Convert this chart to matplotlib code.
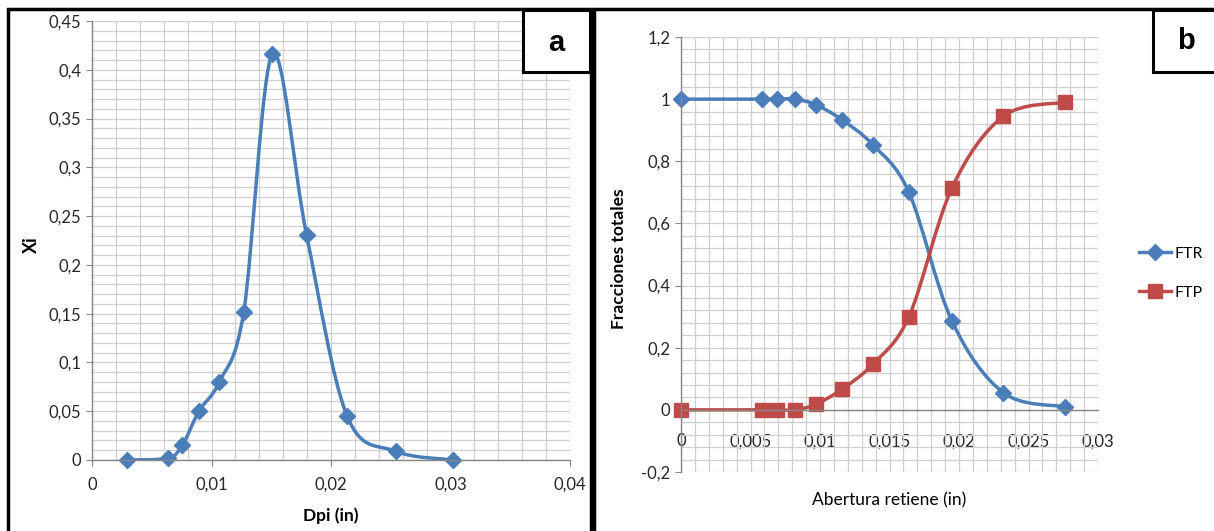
import numpy as np
import matplotlib
matplotlib.use("Agg")
import matplotlib.pyplot as plt
from matplotlib.path import Path
from matplotlib.patches import PathPatch, Rectangle
from matplotlib.lines import Line2D

plt.rcParams['font.family'] = ['Lato', 'DejaVu Sans']

# panel a: particle size distribution
dpi_in = [0.0029, 0.00635, 0.00755, 0.00895, 0.01065, 0.0127, 0.0151, 0.01795, 0.02135, 0.0254, 0.0302]
xi = [0.0, 0.002, 0.015, 0.05, 0.08, 0.152, 0.416, 0.231, 0.045, 0.009, 0.0]

# panel b: cumulative fractions
abertura = [0.0, 0.0058, 0.0069, 0.0082, 0.0097, 0.0116, 0.0138, 0.0164, 0.0195, 0.0232, 0.0276]
ftr = [1.0, 1.0, 1.0, 1.0, 0.982, 0.933, 0.853, 0.70, 0.285, 0.055, 0.01]
ftp = [0.0, 0.0, 0.0, 0.0, 0.018, 0.067, 0.147, 0.30, 0.715, 0.945, 0.99]

BLUE = '#4A7EBB'
RED = '#BE4B48'
GRID = '#CFCFCF'
AXC = '#868686'
LW = 2.5

W, H = 1214, 531


def px_rect(x0, y0, x1, y1):
    # pixel box (top-left origin) -> figure fractions
    return [x0 / W, 1 - y1 / H, (x1 - x0) / W, (y1 - y0) / H]


def smooth_path(x, y):
    # Excel-like smoothed line: Catmull-Rom as cubic Bezier
    p = np.column_stack([x, y])
    pts = np.vstack([p[0], p, p[-1]])
    verts = [p[0]]
    codes = [Path.MOVETO]
    for i in range(1, len(pts) - 2):
        c1 = pts[i] + (pts[i + 1] - pts[i - 1]) / 6
        c2 = pts[i + 1] - (pts[i + 2] - pts[i]) / 6
        verts += [c1, c2, pts[i + 1]]
        codes += [Path.CURVE4] * 3
    return Path(verts, codes)


def fmt(v):
    s = ('%.3f' % v).rstrip('0').rstrip('.')
    if s in ('-0', ''):
        s = '0'
    return s.replace('.', ',')


def style_axes(ax, xmaj, ymaj, xmin, ymin):
    ax.set_xticks(xmaj)
    ax.set_yticks(ymaj)
    ax.set_xticks(xmin, minor=True)
    ax.set_yticks(ymin, minor=True)
    ax.set_xticklabels([fmt(v) for v in xmaj])
    ax.set_yticklabels([fmt(v) for v in ymaj])
    ax.grid(True, which='both', color=GRID, linewidth=0.9)
    ax.set_axisbelow(True)
    for s in ['top', 'right']:
        ax.spines[s].set_visible(False)
    for s in ['left', 'bottom']:
        ax.spines[s].set_color(AXC)
        ax.spines[s].set_linewidth(1.0)
    ax.tick_params(which='major', length=4, color=AXC, labelsize=12)
    ax.tick_params(which='minor', length=0)
    ax.tick_params(axis='both', labelcolor='#262626')


fig = plt.figure(figsize=(W / 100, H / 100), dpi=100)

# ---- panel a ----
ax1 = fig.add_axes(px_rect(92, 21, 570, 460))
ax1.set_xlim(0, 0.04)
ax1.set_ylim(0, 0.45)
style_axes(ax1, np.arange(0, 0.0401, 0.01), np.arange(0, 0.4501, 0.05),
           np.arange(0, 0.0401, 0.002), np.arange(0, 0.4501, 0.01))
ax1.tick_params(axis='x', pad=8)
ax1.add_patch(PathPatch(smooth_path(dpi_in, xi), fill=False, edgecolor=BLUE, lw=LW,
                        capstyle='round', joinstyle='round'))
ax1.plot(dpi_in, xi, linestyle='none', marker='D', markersize=8.5, color=BLUE, clip_on=False)
ax1.set_xlabel('Dpi (in)', fontsize=12.5, fontweight='bold')
ax1.set_ylabel('Xi', fontsize=13, fontweight='bold')
ax1.xaxis.set_label_coords(0.5, -0.109)
ax1.yaxis.set_label_coords(-0.109, 0.49)

# ---- panel b ----
ax2 = fig.add_axes(px_rect(681, 37, 1098, 472))
ax2.set_xlim(0, 0.03)
ax2.set_ylim(-0.2, 1.2)
style_axes(ax2, np.arange(0, 0.0301, 0.005), np.arange(-0.2, 1.2001, 0.2),
           np.arange(0, 0.0301, 0.001), np.arange(-0.2, 1.2001, 0.04))
ax2.spines['bottom'].set_position(('data', 0))
ax2.tick_params(axis='x', which='major', length=0, pad=17)
ax2.add_patch(PathPatch(smooth_path(abertura, ftr), fill=False, edgecolor=BLUE, lw=LW,
                        capstyle='round', joinstyle='round'))
ax2.add_patch(PathPatch(smooth_path(abertura, ftp), fill=False, edgecolor=RED, lw=LW,
                        capstyle='round', joinstyle='round'))
ax2.plot(abertura, ftr, linestyle='none', marker='D', markersize=8.5, color=BLUE, clip_on=False)
ax2.plot(abertura, ftp, linestyle='none', marker='s', markersize=10, color=RED, clip_on=False)
ax2.set_xlabel('Abertura retiene (in)', fontsize=12.5)
ax2.set_ylabel('Fracciones totales', fontsize=12.5, fontweight='bold')
ax2.xaxis.set_label_coords(0.5, -0.046)
ax2.yaxis.set_label_coords(-0.13, 0.49)

handles = [Line2D([], [], color=BLUE, lw=LW, marker='D', markersize=8.5),
           Line2D([], [], color=RED, lw=LW, marker='s', markersize=10)]
fig.legend(handles, ['FTR', 'FTP'], loc='center left', frameon=False,
           bbox_to_anchor=(1129 / W, 1 - 273 / H), fontsize=11.5,
           borderaxespad=0.3, borderpad=0.3,
           handlelength=2.0, handletextpad=0.25, labelspacing=1.55)

# ---- panel frames and letters ----
fig.patches.append(Rectangle((8 / W, -0.02), (583 / W), 1 - 9 / H + 0.02,
                             transform=fig.transFigure, fill=False, edgecolor='black', lw=2.5))
fig.patches.append(Rectangle((594 / W, -0.02), (640 / W), 1 - 9 / H + 0.02,
                             transform=fig.transFigure, fill=False, edgecolor='black', lw=2.5))
fig.patches.append(Rectangle((523 / W, 1 - 72 / H), 67 / W, 62 / H,
                             transform=fig.transFigure, facecolor='white', edgecolor='black', lw=2.2))
fig.patches.append(Rectangle((1153 / W, 1 - 72 / H), 70 / W, 62 / H,
                             transform=fig.transFigure, facecolor='white', edgecolor='black', lw=2.2))
fig.text(556 / W, 1 - 43 / H, 'a', fontsize=21, fontweight='bold', family='Liberation Sans',
         ha='center', va='center')
fig.text(1186 / W, 1 - 41 / H, 'b', fontsize=21, fontweight='bold', family='Liberation Sans',
         ha='center', va='center')

fig.savefig('out.png', dpi=100)
